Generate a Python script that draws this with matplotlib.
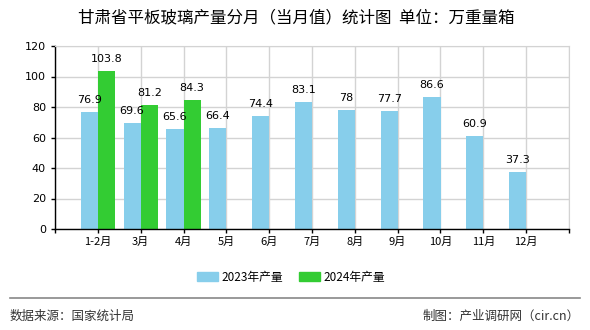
import numpy as np
import matplotlib
matplotlib.use('Agg')
from matplotlib import pyplot as plt
from matplotlib.patches import Patch

plt.rcParams['font.family'] = ['Noto Sans CJK SC', 'DejaVu Sans']

# Data
months = ['1-2月', '3月', '4月', '5月', '6月', '7月', '8月', '9月', '10月', '11月', '12月']
prod_2023 = [76.9, 69.6, 65.6, 66.4, 74.4, 83.1, 78, 77.7, 86.6, 60.9, 37.3]
prod_2024 = [103.8, 81.2, 84.3]
yticks = [0, 20, 40, 60, 80, 100, 120]

blue = '#87ceeb'
green = '#33cc33'
grid_c = '#d3d3d3'

fig = plt.figure(figsize=(5.9, 3.3), dpi=100)
ax = fig.add_axes([55/590, 1-229/330, 514/590, 183/330])

x = np.arange(1, len(months) + 1)
w = 0.4
b1 = ax.bar(x - w/2, prod_2023, w, color=blue, zorder=3)
b2 = ax.bar(x[:len(prod_2024)] + w/2, prod_2024, w, color=green, zorder=3)

# Value labels above bars
for bars, vals in [(b1, prod_2023), (b2, prod_2024)]:
    for r, v in zip(bars, vals):
        ax.annotate('%g' % v, (r.get_x() + r.get_width()/2, v),
                    xytext=(0, 5), textcoords='offset points',
                    ha='center', va='bottom', fontsize=8,
                    family='DejaVu Sans', zorder=4)

ax.set_xlim(0, 12)
ax.set_ylim(0, 120)
ax.set_yticks(yticks)
ax.set_xticks(np.arange(0, 13))
ax.set_xticklabels([''] + months + [''])
ax.tick_params(axis='both', labelsize=8, length=3, width=1, colors='black')
ax.tick_params(axis='x', pad=3)
for lab in ax.get_yticklabels():
    lab.set_family('DejaVu Sans')

ax.grid(True, color=grid_c, linewidth=1, zorder=0)
ax.spines['top'].set_color(grid_c)
ax.spines['right'].set_color(grid_c)
ax.spines['left'].set_linewidth(1)
ax.spines['bottom'].set_linewidth(1)
ax.spines['bottom'].set_zorder(5)

# Title
fig.text(296/590, 1-18/330, '甘肃省平板玻璃产量分月（当月值）统计图  单位：万重量箱',
         ha='center', va='center', fontsize=11.9)

# Legend
handles = [Patch(color=blue), Patch(color=green)]
fig.legend(handles, ['2023年产量', '2024年产量'], loc='center',
           bbox_to_anchor=(291/590, 1-277/330), ncol=2, frameon=False,
           fontsize=8.5, handlelength=1.8, handleheight=0.7,
           handletextpad=0.3, columnspacing=1.3)

# Footer
fig.add_artist(plt.Line2D([10/590, 580/590], [1-298/330, 1-298/330],
                          color='#888888', linewidth=1.2))
fig.text(10/590, 1-316/330, '数据来源：国家统计局', ha='left', va='center',
         fontsize=9, color='#333333')
fig.text(580/590, 1-316/330, '制图：产业调研网（cir.cn）', ha='right', va='center',
         fontsize=9, color='#333333')

fig.savefig('out.png', dpi=100)
